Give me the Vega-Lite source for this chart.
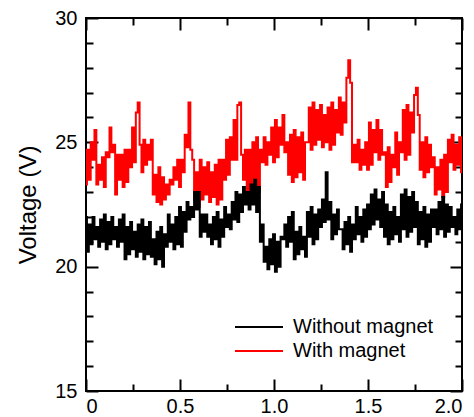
{
  "$schema": "https://vega.github.io/schema/vega-lite/v6.json",
  "width": 376,
  "height": 373,
  "autosize": {"type": "none"},
  "padding": {"left": 86, "top": 18, "right": 12, "bottom": 26},
  "background": "white",
  "config": {
    "font": "Liberation Sans",
    "view": {"stroke": "black", "strokeWidth": 2},
    "axis": {"domain": false, "grid": false, "tickColor": "black", "tickWidth": 2, "labelColor": "black", "titleColor": "black", "labelFont": "Liberation Sans", "titleFont": "Liberation Sans"}
  },
  "datasets": {
    "d": [
      {"t":0.00,"a":22.0,"b":23.3},{"t":0.01,"a":20.6,"b":24.7},{"t":0.02,"a":21.7,"b":23.5},{"t":0.03,"a":20.9,"b":25.0},{"t":0.04,"a":22.0,"b":24.3},
      {"t":0.05,"a":21.1,"b":25.5},{"t":0.06,"a":21.6,"b":23.3},{"t":0.07,"a":20.8,"b":24.1},{"t":0.08,"a":21.9,"b":23.5},{"t":0.09,"a":21.0,"b":24.4},
      {"t":0.10,"a":22.1,"b":23.2},{"t":0.11,"a":20.7,"b":24.6},{"t":0.12,"a":21.8,"b":24.4},{"t":0.13,"a":20.9,"b":25.6},{"t":0.14,"a":22.0,"b":24.6},
      {"t":0.15,"a":21.1,"b":24.9},{"t":0.16,"a":21.6,"b":22.9},{"t":0.17,"a":20.8,"b":24.5},{"t":0.18,"a":21.9,"b":23.5},{"t":0.19,"a":21.0,"b":24.5},
      {"t":0.20,"a":22.1,"b":23.2},{"t":0.21,"a":20.3,"b":24.7},{"t":0.22,"a":21.6,"b":23.4},{"t":0.23,"a":20.5,"b":24.7},{"t":0.24,"a":21.8,"b":24.0},
      {"t":0.25,"a":20.7,"b":25.6},{"t":0.26,"a":21.4,"b":24.2},{"t":0.27,"a":20.4,"b":26.2},{"t":0.28,"a":21.7,"b":26.6},{"t":0.29,"a":20.6,"b":24.9},
      {"t":0.30,"a":21.9,"b":23.8},{"t":0.31,"a":20.3,"b":25.1},{"t":0.32,"a":21.6,"b":24.1},{"t":0.33,"a":20.5,"b":24.9},{"t":0.34,"a":21.8,"b":24.3},
      {"t":0.35,"a":20.4,"b":25.1},{"t":0.36,"a":21.1,"b":22.9},{"t":0.37,"a":20.1,"b":23.7},{"t":0.38,"a":21.4,"b":22.6},{"t":0.39,"a":20.3,"b":24.0},
      {"t":0.40,"a":21.6,"b":22.5},{"t":0.41,"a":20.0,"b":23.6},{"t":0.42,"a":21.3,"b":22.7},{"t":0.43,"a":20.8,"b":23.3},{"t":0.44,"a":22.1,"b":22.9},
      {"t":0.45,"a":21.0,"b":23.5},{"t":0.46,"a":21.7,"b":23.3},{"t":0.47,"a":20.7,"b":24.0},{"t":0.48,"a":22.0,"b":23.5},{"t":0.49,"a":20.9,"b":24.3},
      {"t":0.50,"a":22.4,"b":23.2},{"t":0.51,"a":20.8,"b":24.3},{"t":0.52,"a":22.2,"b":23.8},{"t":0.53,"a":21.4,"b":25.3},{"t":0.54,"a":22.6,"b":24.8},
      {"t":0.55,"a":21.9,"b":26.6},{"t":0.56,"a":22.4,"b":24.7},{"t":0.57,"a":22.0,"b":24.3},{"t":0.58,"a":23.0,"b":22.7},{"t":0.59,"a":22.3,"b":23.8},
      {"t":0.60,"a":23.0,"b":22.4},{"t":0.61,"a":21.2,"b":24.3},{"t":0.62,"a":22.1,"b":22.7},{"t":0.63,"a":21.4,"b":24.0},{"t":0.64,"a":22.1,"b":22.9},
      {"t":0.65,"a":21.2,"b":24.2},{"t":0.66,"a":21.7,"b":22.6},{"t":0.67,"a":20.9,"b":23.8},{"t":0.68,"a":22.0,"b":22.8},{"t":0.69,"a":21.1,"b":24.1},
      {"t":0.70,"a":22.2,"b":22.5},{"t":0.71,"a":20.8,"b":24.3},{"t":0.72,"a":21.9,"b":22.7},{"t":0.73,"a":21.2,"b":24.3},{"t":0.74,"a":22.4,"b":23.5},
      {"t":0.75,"a":21.6,"b":25.1},{"t":0.76,"a":22.1,"b":23.7},{"t":0.77,"a":21.5,"b":25.2},{"t":0.78,"a":22.6,"b":24.3},{"t":0.79,"a":21.9,"b":25.9},
      {"t":0.80,"a":23.0,"b":24.3},{"t":0.81,"a":21.8,"b":26.5},{"t":0.82,"a":22.9,"b":26.6},{"t":0.83,"a":22.2,"b":24.5},{"t":0.84,"a":23.2,"b":23.5},
      {"t":0.85,"a":22.5,"b":24.7},{"t":0.86,"a":23.0,"b":22.9},{"t":0.87,"a":22.3,"b":24.7},{"t":0.88,"a":23.3,"b":23.1},{"t":0.89,"a":22.5,"b":25.0},
      {"t":0.90,"a":23.5,"b":22.8},{"t":0.91,"a":22.2,"b":25.2},{"t":0.92,"a":23.2,"b":23.0},{"t":0.93,"a":21.0,"b":24.7},{"t":0.94,"a":21.7,"b":24.2},
      {"t":0.95,"a":20.2,"b":25.2},{"t":0.96,"a":20.8,"b":24.1},{"t":0.97,"a":19.9,"b":25.0},{"t":0.98,"a":21.1,"b":24.5},{"t":0.99,"a":20.1,"b":25.6},
      {"t":1.00,"a":21.3,"b":24.2},{"t":1.01,"a":19.8,"b":25.9},{"t":1.02,"a":21.0,"b":24.4},{"t":1.03,"a":20.0,"b":25.6},{"t":1.04,"a":21.2,"b":24.9},
      {"t":1.05,"a":21.1,"b":26.1},{"t":1.06,"a":21.7,"b":24.6},{"t":1.07,"a":20.8,"b":25.0},{"t":1.08,"a":22.0,"b":23.7},{"t":1.09,"a":21.0,"b":25.3},
      {"t":1.10,"a":22.2,"b":23.4},{"t":1.11,"a":20.3,"b":25.5},{"t":1.12,"a":21.4,"b":23.6},{"t":1.13,"a":20.5,"b":25.2},{"t":1.14,"a":21.6,"b":23.8},
      {"t":1.15,"a":20.7,"b":25.4},{"t":1.16,"a":21.2,"b":23.5},{"t":1.17,"a":20.4,"b":25.0},{"t":1.18,"a":22.2,"b":25.0},{"t":1.19,"a":21.2,"b":26.4},
      {"t":1.20,"a":22.4,"b":24.7},{"t":1.21,"a":20.9,"b":26.6},{"t":1.22,"a":22.1,"b":24.9},{"t":1.23,"a":21.1,"b":26.3},{"t":1.24,"a":22.3,"b":25.1},
      {"t":1.25,"a":21.6,"b":26.5},{"t":1.26,"a":22.7,"b":24.8},{"t":1.27,"a":21.8,"b":26.1},{"t":1.28,"a":23.8,"b":25.0},{"t":1.29,"a":21.9,"b":26.4},
      {"t":1.30,"a":22.6,"b":24.7},{"t":1.31,"a":21.1,"b":26.6},{"t":1.32,"a":22.1,"b":24.9},{"t":1.33,"a":21.3,"b":26.3},{"t":1.34,"a":22.3,"b":25.4},
      {"t":1.35,"a":21.5,"b":26.8},{"t":1.36,"a":21.5,"b":25.3},{"t":1.37,"a":20.7,"b":26.6},{"t":1.38,"a":21.8,"b":25.8},{"t":1.39,"a":20.9,"b":27.6},
      {"t":1.40,"a":22.0,"b":28.3},{"t":1.41,"a":20.6,"b":27.4},{"t":1.42,"a":21.7,"b":24.2},{"t":1.43,"a":21.1,"b":24.9},{"t":1.44,"a":22.4,"b":24.2},
      {"t":1.45,"a":21.3,"b":25.1},{"t":1.46,"a":22.0,"b":23.9},{"t":1.47,"a":21.0,"b":24.7},{"t":1.48,"a":22.3,"b":24.1},{"t":1.49,"a":21.2,"b":25.0},
      {"t":1.50,"a":22.5,"b":23.9},{"t":1.51,"a":21.5,"b":25.8},{"t":1.52,"a":22.9,"b":24.1},{"t":1.53,"a":21.7,"b":25.5},{"t":1.54,"a":23.1,"b":24.6},
      {"t":1.55,"a":21.9,"b":25.9},{"t":1.56,"a":22.7,"b":24.3},{"t":1.57,"a":21.6,"b":25.5},{"t":1.58,"a":23.0,"b":24.5},{"t":1.59,"a":21.2,"b":24.6},
      {"t":1.60,"a":22.5,"b":23.2},{"t":1.61,"a":20.9,"b":24.8},{"t":1.62,"a":22.2,"b":23.4},{"t":1.63,"a":21.1,"b":24.5},{"t":1.64,"a":22.4,"b":24.0},
      {"t":1.65,"a":21.3,"b":25.4},{"t":1.66,"a":22.0,"b":23.7},{"t":1.67,"a":21.0,"b":25.0},{"t":1.68,"a":22.9,"b":24.6},{"t":1.69,"a":21.5,"b":26.3},
      {"t":1.70,"a":23.1,"b":24.3},{"t":1.71,"a":21.2,"b":26.5},{"t":1.72,"a":22.8,"b":24.5},{"t":1.73,"a":21.4,"b":26.2},{"t":1.74,"a":23.0,"b":25.4},
      {"t":1.75,"a":21.6,"b":26.9},{"t":1.76,"a":22.6,"b":27.2},{"t":1.77,"a":20.9,"b":26.1},{"t":1.78,"a":22.2,"b":23.9},{"t":1.79,"a":21.1,"b":25.0},
      {"t":1.80,"a":22.4,"b":23.6},{"t":1.81,"a":20.8,"b":25.2},{"t":1.82,"a":22.1,"b":23.8},{"t":1.83,"a":21.0,"b":24.9},{"t":1.84,"a":22.3,"b":24.0},
      {"t":1.85,"a":21.6,"b":24.4},{"t":1.86,"a":22.3,"b":22.9},{"t":1.87,"a":21.3,"b":24.0},{"t":1.88,"a":22.6,"b":23.1},{"t":1.89,"a":21.5,"b":24.3},
      {"t":1.90,"a":22.8,"b":22.8},{"t":1.91,"a":21.2,"b":24.5},{"t":1.92,"a":22.5,"b":23.0},{"t":1.93,"a":21.4,"b":25.1},{"t":1.94,"a":22.4,"b":24.2},
      {"t":1.95,"a":21.6,"b":25.3},{"t":1.96,"a":22.0,"b":23.9},{"t":1.97,"a":21.3,"b":24.9},{"t":1.98,"a":22.3,"b":24.1},{"t":1.99,"a":21.5,"b":25.2},
      {"t":2.00,"a":22.5,"b":23.8}
    ]
  },
  "data": {"name": "d"},
  "resolve": {"axis": {"x": "independent", "y": "independent"}},
  "layer": [
    {
      "mark": {"type": "line", "strokeWidth": 2, "interpolate": "step"},
      "encoding": {
        "x": {"field": "t", "type": "quantitative", "scale": {"domain": [0, 2], "nice": false},
              "axis": {"orient": "bottom", "values": [0, 0.5, 1, 1.5, 2], "labelExpr": "datum.value == 0 ? '0' : format(datum.value, '.1f')", "tickSize": -12, "labelPadding": 17, "labelFontSize": 20, "title": null}},
        "y": {"field": "b", "type": "quantitative", "scale": {"domain": [15, 30], "nice": false},
              "axis": {"orient": "left", "values": [15, 20, 25, 30], "tickSize": -12, "labelPadding": 21, "labelFontSize": 20, "title": "Voltage (V)", "titleFontSize": 24, "titleFontWeight": "normal", "titlePadding": 14}},
        "color": {"datum": "With magnet", "type": "nominal",
                  "scale": {"domain": ["Without magnet", "With magnet"], "range": ["black", "red"]},
                  "legend": {"title": null, "orient": "none", "legendX": 162, "legendY": 298, "symbolType": "M-2.4,0H2.4", "symbolSize": 400, "symbolStrokeWidth": 2, "labelFontSize": 20, "labelOffset": 23, "rowPadding": 3, "labelColor": "black", "labelFont": "Liberation Sans", "padding": 0}}
      }
    },
    {
      "mark": {"type": "line", "strokeWidth": 2, "interpolate": "step"},
      "encoding": {
        "x": {"field": "t", "type": "quantitative", "axis": {"orient": "bottom", "values": [0.25, 0.75, 1.25, 1.75], "tickSize": -7, "labels": false, "title": null}},
        "y": {"field": "a", "type": "quantitative", "axis": {"orient": "left", "values": [16, 17, 18, 19, 21, 22, 23, 24, 26, 27, 28, 29], "tickSize": -7, "labels": false, "title": null}},
        "color": {"datum": "Without magnet", "type": "nominal"}
      }
    },
    {
      "mark": {"type": "point", "opacity": 0},
      "encoding": {
        "x": {"field": "t", "type": "quantitative", "axis": {"orient": "top", "values": [0, 0.5, 1, 1.5, 2], "tickSize": -12, "labels": false, "title": null}},
        "y": {"field": "a", "type": "quantitative", "axis": {"orient": "right", "values": [15, 20, 25, 30], "tickSize": -12, "labels": false, "title": null}}
      }
    },
    {
      "mark": {"type": "point", "opacity": 0},
      "encoding": {
        "x": {"field": "t", "type": "quantitative", "axis": {"orient": "top", "values": [0.25, 0.75, 1.25, 1.75], "tickSize": -7, "labels": false, "title": null}},
        "y": {"field": "a", "type": "quantitative", "axis": {"orient": "right", "values": [16, 17, 18, 19, 21, 22, 23, 24, 26, 27, 28, 29], "tickSize": -7, "labels": false, "title": null}}
      }
    }
  ]
}
